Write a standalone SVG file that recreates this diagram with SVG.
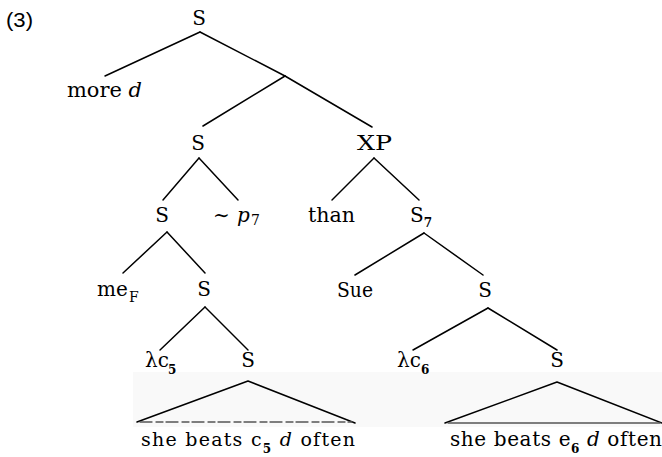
<svg xmlns="http://www.w3.org/2000/svg" width="662" height="457" viewBox="0 0 662 457">
<style>
text{font-family:"DejaVu Serif","Liberation Serif","Times New Roman",serif;font-size:20px;fill:#000}
.c{text-anchor:middle}
.i{font-style:italic}
.sub{font-size:12px;font-weight:bold}
.num{font-family:"Liberation Sans","DejaVu Sans",Arial,sans-serif;font-size:20px}
.leaf{font-size:19px}
.leaf2{font-size:20px}
#edges line,#edges polyline{stroke:#000;stroke-width:1.5;fill:none;stroke-linecap:round;stroke-linejoin:round}
#edges .base{stroke:#555;stroke-width:1.3}
</style>
<rect width="662" height="457" fill="#fff"/>
<rect x="133" y="372" width="529" height="55" fill="#f9f9f9"/>
<text class="num" x="6" y="27" textLength="27" lengthAdjust="spacingAndGlyphs">(3)</text>
<g id="edges">
<line x1="200" y1="32" x2="105" y2="76"/>
<line x1="200" y1="32" x2="285" y2="76"/>
<line x1="285" y1="76" x2="203" y2="126"/>
<line x1="285" y1="76" x2="372" y2="127"/>
<line x1="199" y1="158" x2="163" y2="200"/>
<line x1="199" y1="158" x2="238" y2="200"/>
<line x1="374" y1="158" x2="332" y2="200"/>
<line x1="374" y1="158" x2="419" y2="200"/>
<line x1="167" y1="232" x2="123" y2="273"/>
<line x1="167" y1="232" x2="205" y2="273"/>
<line x1="424" y1="233" x2="355" y2="275"/>
<line x1="424" y1="233" x2="483" y2="275"/>
<line x1="205" y1="307" x2="160" y2="350"/>
<line x1="205" y1="307" x2="248" y2="350"/>
<line x1="488" y1="308" x2="413" y2="350"/>
<line x1="488" y1="308" x2="557" y2="350"/>
<polyline points="137,422 248,381 355,423"/>
<line class="base" x1="140" y1="422" x2="352" y2="422" stroke-dasharray="12 4 7 3"/>
<polyline points="445,423 557,382 662,423"/>
<line class="base" x1="448" y1="423" x2="660" y2="423"/>
</g>
<g id="n-root"><text class="c" x="199" y="25">S</text></g>
<g id="n-more"><text x="67" y="97" textLength="75" lengthAdjust="spacingAndGlyphs">more <tspan class="i">d</tspan></text></g>
<g id="n-s2"><text class="c" x="198" y="150">S</text></g>
<g id="n-xp"><text x="357" y="150" textLength="35" lengthAdjust="spacingAndGlyphs">XP</text></g>
<g id="n-s3"><text class="c" x="162" y="222">S</text></g>
<g id="n-p7"><text x="213" y="222">∼ <tspan class="i" x="237">p</tspan><tspan x="251" dy="3" style="font-size:14px">7</tspan></text></g>
<g id="n-than"><text x="308" y="222" textLength="47" lengthAdjust="spacingAndGlyphs">than</text></g>
<g id="n-s7"><text x="410" y="222">S<tspan class="sub" dy="5">7</tspan></text></g>
<g id="n-me"><text x="97" y="296">me<tspan x="129" dy="6" style="font-size:14px">F</tspan></text></g>
<g id="n-s4"><text class="c" x="204" y="296">S</text></g>
<g id="n-sue"><text x="337" y="297" textLength="36" lengthAdjust="spacingAndGlyphs">Sue</text></g>
<g id="n-s4r"><text class="c" x="485" y="297">S</text></g>
<g id="n-lc5"><text x="145" y="367">λc<tspan class="sub" x="168" dy="7">5</tspan></text></g>
<g id="n-s5"><text class="c" x="248" y="367">S</text></g>
<g id="n-lc6"><text x="397" y="367">λc<tspan class="sub" x="421" dy="7">6</tspan></text></g>
<g id="n-s5r"><text class="c" x="557" y="367">S</text></g>
<g id="n-leaf1"><text class="leaf" x="141" y="446" textLength="214" lengthAdjust="spacing">she beats c<tspan class="sub" dy="7">5</tspan><tspan dy="-7"> </tspan><tspan class="i">d</tspan> often</text></g>
<g id="n-leaf2"><text class="leaf2" x="450" y="446" textLength="212" lengthAdjust="spacing">she beats e<tspan class="sub" dy="7">6</tspan><tspan dy="-7"> </tspan><tspan class="i">d</tspan> often</text></g>
</svg>
